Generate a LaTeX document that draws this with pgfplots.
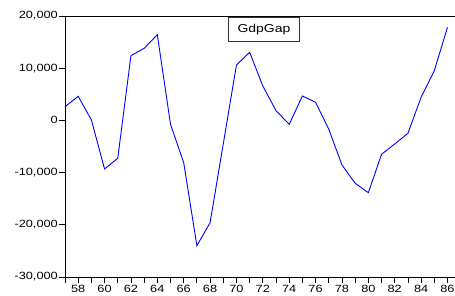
\documentclass[border=0pt]{standalone}
\usepackage{fontspec}
\setmainfont[FakeStretch=1.22]{Liberation Sans}
\usepackage{pgfplots}
\pgfplotsset{compat=1.18}
\begin{document}
\begin{tikzpicture}
\path[use as bounding box] (-65bp,-19bp) rectangle (390bp,277bp);
\begin{axis}[
  at={(0,0)}, anchor=south west, scale only axis,
  width=390bp, height=261bp,
  xmin=57, xmax=86.57, ymin=-30000, ymax=20000,
  scaled ticks=false,
  axis x line*=box, axis y line*=left,
  axis line style={-, line width=0.9bp, black},
  xtick={58,60,...,86},
  xticklabels={58,60,62,64,66,68,70,72,74,76,78,80,82,84,86},
  minor xtick={57,...,86},
  ytick={-30000,-20000,-10000,0,10000,20000},
  yticklabels={{-30,000},{-20,000},{-10,000},{0},{10,000},{20,000}},
  xtick pos=bottom, ytick pos=left,
  tick align=outside,
  major tick length=6bp, minor tick length=6bp,
  every tick/.style={black, line width=0.8bp},
  tick label style={font=\fontsize{10.5}{12}\selectfont},
  yticklabel style={inner sep=1bp},
  xticklabel style={inner sep=1bp, yshift=-1bp},
  legend image code/.code={},
  legend style={at={(rel axis cs:0.418,0.996)}, anchor=north west,
    draw=black!80, line width=1bp, font=\fontsize{11.5}{13}\selectfont,
    inner xsep=7bp, inner ysep=5bp},
]
\addplot[blue, line width=0.9bp, no marks] coordinates {
(57,2620) (58,4620) (59,100) (60,-9310) (61,-7260) (62,12400) (63,13810)
(64,16420) (65,-750) (66,-8100) (67,-24000) (68,-19600) (69,-4500)
(70,10610) (71,13050) (72,6590) (73,1860) (74,-750) (75,4670) (76,3470)
(77,-1700) (78,-8540) (79,-12050) (80,-13850) (81,-6490) (82,-4520)
(83,-2470) (84,4430) (85,9520) (86,17830)
};
\addlegendentry{GdpGap}
\end{axis}
\end{tikzpicture}
\end{document}
